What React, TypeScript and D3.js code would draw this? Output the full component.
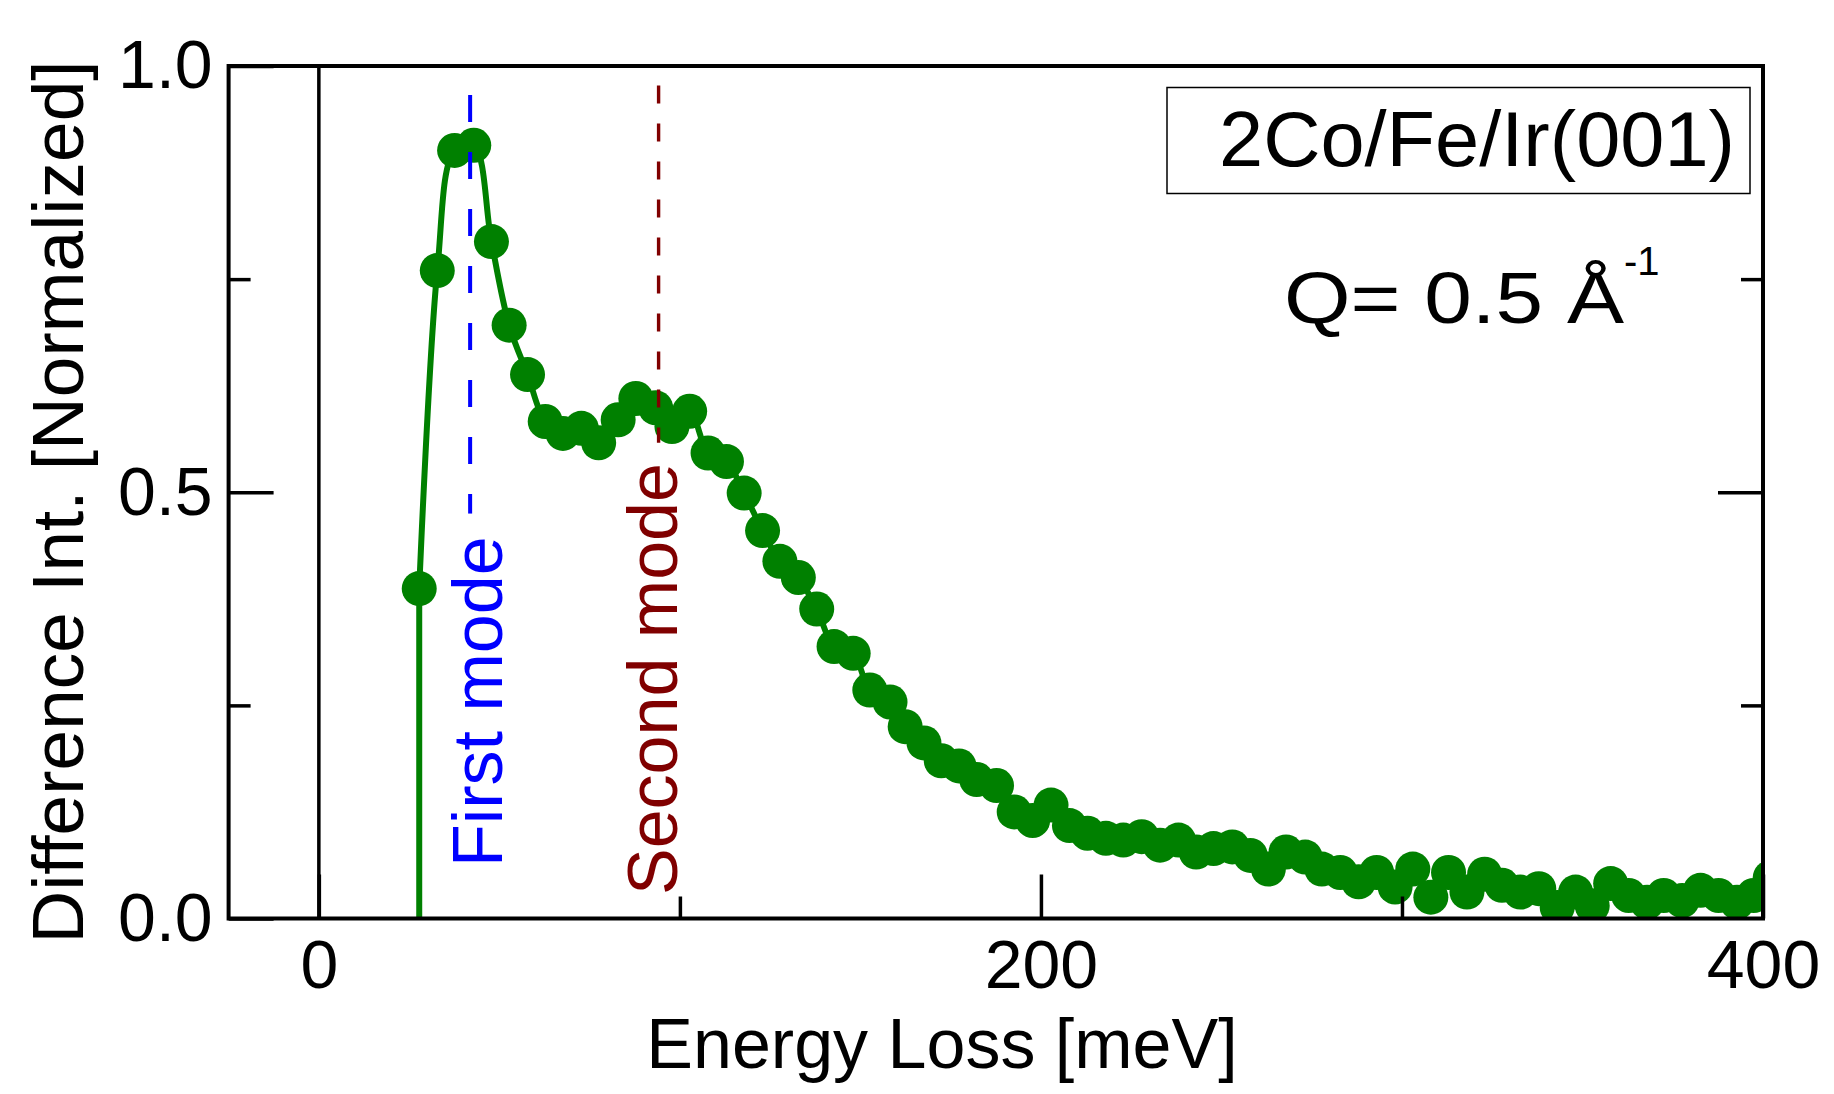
import React, { useEffect, useRef } from "react";
import * as d3 from "d3";

// Energy loss [meV] of the measured points
const energy = [
  27.8, 32.8, 37.6, 42.9, 47.8, 52.7, 57.8, 62.7, 67.6, 72.7,
  77.5, 82.9, 87.8, 93.3, 97.8, 102.7, 107.8, 112.9, 117.8, 122.9,
  127.7, 132.8, 137.9, 142.7, 148.0, 152.6, 158.2, 162.4, 167.6, 172.4,
  177.3, 182.2, 187.7, 192.6, 197.7, 202.8, 207.9, 212.9, 218.0, 222.8,
  227.9, 233.0, 238.1, 243.0, 247.8, 253.0, 258.0, 263.0, 267.9, 273.2,
  277.8, 282.9, 288.0, 293.0, 298.1, 303.0, 308.0, 312.9, 318.0, 322.9,
  327.7, 332.8, 337.9, 343.0, 348.1, 352.7, 357.8, 362.8, 367.9, 372.5,
  377.6, 382.7, 387.7, 392.8, 397.4, 402.0,
];

// Difference intensity (normalized)
const intensity = [
  0.387, 0.760, 0.901, 0.907, 0.794, 0.696, 0.638, 0.583, 0.569, 0.575,
  0.558, 0.585, 0.610, 0.599, 0.577, 0.595, 0.546, 0.536, 0.499, 0.455,
  0.419, 0.400, 0.363, 0.319, 0.311, 0.268, 0.254, 0.225, 0.206, 0.185,
  0.179, 0.163, 0.156, 0.125, 0.115, 0.133, 0.109, 0.100, 0.094, 0.092,
  0.096, 0.086, 0.092, 0.078, 0.082, 0.084, 0.074, 0.058, 0.078, 0.072,
  0.058, 0.054, 0.043, 0.054, 0.037, 0.058, 0.025, 0.054, 0.031, 0.052,
  0.039, 0.031, 0.035, 0.013, 0.031, 0.015, 0.041, 0.027, 0.019, 0.027,
  0.021, 0.033, 0.027, 0.019, 0.027, 0.048,
];

// the curve drops straight to zero at the onset
const onsetEnergy = 27.8;

const xTicks = [0, 200, 400];
const xMinorTicks = [100, 300];
const yTicks = [0, 0.5, 1];
const yMinorTicks = [0.25, 0.75];

const modeNames = ["First mode", "Second mode"];
const modeEnergy = [41.9, 94.1];
const modeTop = [0.966, 0.977];
const modeBottom = [0.475, 0.558];

const sampleName = "2Co/Fe/Ir(001)";
const qLabel = "Q= 0.5 Å";
const qExponent = "-1";

const W = 1834;
const H = 1094;
const FONT = "Arial, 'Liberation Sans', sans-serif";
const GREEN = "#008000";
const modeColors = ["#0000ff", "#800000"];

export default function App() {
  const ref = useRef<SVGSVGElement>(null);

  useEffect(() => {
    const svg = d3.select(ref.current);
    svg.selectAll("*").remove();

    const left = 228.6, right = 1763, top = 66, bottom = 918.5;

    const x = d3.scaleLinear().domain([-25, 400]).range([left, right]);
    const y = d3.scaleLinear().domain([0, 1]).range([bottom, top]);

    svg.append("defs").append("clipPath").attr("id", "plotClip")
      .append("rect")
      .attr("x", left).attr("y", top)
      .attr("width", right - left).attr("height", bottom - top);

    // zero line
    svg.append("line")
      .attr("x1", x(0)).attr("x2", x(0))
      .attr("y1", y(0)).attr("y2", y(1))
      .attr("stroke", "#000").attr("stroke-width", 3.5);

    const pts: [number, number][] = energy.map((e, i) => [e, intensity[i]]);

    const plot = svg.append("g").attr("clip-path", "url(#plotClip)");

    // straight drop from the first point to zero
    plot.append("path")
      .datum([[onsetEnergy, 0], pts[0]] as [number, number][])
      .attr("fill", "none")
      .attr("stroke", GREEN)
      .attr("stroke-width", 6)
      .attr("d", d3.line<[number, number]>()
        .x((d) => x(d[0]))
        .y((d) => y(d[1])));

    plot.append("path")
      .datum(pts)
      .attr("fill", "none")
      .attr("stroke", GREEN)
      .attr("stroke-width", 6)
      .attr("d", d3.line<[number, number]>()
        .x((d) => x(d[0]))
        .y((d) => y(d[1]))
        .curve(d3.curveCatmullRom.alpha(0.5)));

    plot.selectAll(".dot")
      .data(pts)
      .enter().append("circle")
      .attr("class", "dot")
      .attr("cx", (d) => x(d[0]))
      .attr("cy", (d) => y(d[1]))
      .attr("r", 17.5)
      .attr("fill", GREEN);

    // mode markers
    const dashes = ["27 30", "18 20"];
    const widths = [4, 3.4];
    const labelOffset = [32, 18];
    const labelStart = [867, 895];
    modeNames.forEach((name, i) => {
      svg.append("line")
        .attr("x1", x(modeEnergy[i])).attr("x2", x(modeEnergy[i]))
        .attr("y1", y(modeTop[i])).attr("y2", y(modeBottom[i]))
        .attr("stroke", modeColors[i])
        .attr("stroke-width", widths[i])
        .attr("stroke-dasharray", dashes[i]);
      const tx = x(modeEnergy[i]) + labelOffset[i];
      svg.append("text")
        .attr("transform", `translate(${tx}, ${labelStart[i]}) rotate(-90)`)
        .attr("fill", modeColors[i])
        .attr("font-family", FONT)
        .attr("font-size", 70)
        .text(name);
    });

    // frame
    svg.append("rect")
      .attr("x", left).attr("y", top)
      .attr("width", right - left).attr("height", bottom - top)
      .attr("fill", "none")
      .attr("stroke", "#000")
      .attr("stroke-width", 4);

    const styleAxis = (g: any) => {
      g.select(".domain").remove();
      g.selectAll(".tick line").attr("stroke", "#000").attr("stroke-width", 3.5);
      g.selectAll("text")
        .attr("font-family", FONT)
        .attr("font-size", 68)
        .attr("fill", "#000");
    };

    svg.append("g")
      .attr("transform", `translate(${left},0)`)
      .call(d3.axisLeft(y).tickValues(yTicks).tickSize(-45).tickPadding(16)
        .tickFormat(d3.format(".1f") as any))
      .call(styleAxis);
    svg.append("g")
      .attr("transform", `translate(${left},0)`)
      .call(d3.axisLeft(y).tickValues(yMinorTicks).tickSize(-22).tickFormat(() => ""))
      .call(styleAxis);
    svg.append("g")
      .attr("transform", `translate(${right},0)`)
      .call(d3.axisRight(y).tickValues([0.5]).tickSize(-45).tickFormat(() => ""))
      .call(styleAxis);
    svg.append("g")
      .attr("transform", `translate(${right},0)`)
      .call(d3.axisRight(y).tickValues(yMinorTicks).tickSize(-22).tickFormat(() => ""))
      .call(styleAxis);
    svg.append("g")
      .attr("transform", `translate(0,${bottom})`)
      .call(d3.axisBottom(x).tickValues(xTicks).tickSize(-44).tickPadding(21)
        .tickFormat(d3.format("d") as any))
      .call(styleAxis);
    svg.append("g")
      .attr("transform", `translate(0,${bottom})`)
      .call(d3.axisBottom(x).tickValues(xMinorTicks).tickSize(-22).tickFormat(() => ""))
      .call(styleAxis);

    // axis titles
    svg.append("text")
      .attr("x", 942).attr("y", 1068)
      .attr("text-anchor", "middle")
      .attr("font-family", FONT).attr("font-size", 70)
      .text("Energy Loss [meV]");
    svg.append("text")
      .attr("transform", "translate(83, 502) rotate(-90)")
      .attr("text-anchor", "middle")
      .attr("font-family", FONT).attr("font-size", 73)
      .text("Difference Int. [Normalized]");

    // sample box
    svg.append("rect")
      .attr("x", 1167).attr("y", 87.5)
      .attr("width", 583).attr("height", 106)
      .attr("fill", "#fff")
      .attr("stroke", "#000").attr("stroke-width", 1.5);
    svg.append("text")
      .attr("x", 1219).attr("y", 166)
      .attr("font-family", FONT).attr("font-size", 77)
      .attr("textLength", 516).attr("lengthAdjust", "spacingAndGlyphs")
      .text(sampleName);

    svg.append("text")
      .attr("x", 1284).attr("y", 323)
      .attr("font-family", FONT).attr("font-size", 72)
      .attr("textLength", 340).attr("lengthAdjust", "spacingAndGlyphs")
      .text(qLabel);
    svg.append("text")
      .attr("x", 1624).attr("y", 275)
      .attr("font-family", FONT).attr("font-size", 40)
      .text(qExponent);
  }, []);

  return (
    <svg
      ref={ref}
      width={W}
      height={H}
      style={{ position: "absolute", left: 0, top: 0, background: "#fff" }}
    />
  );
}
